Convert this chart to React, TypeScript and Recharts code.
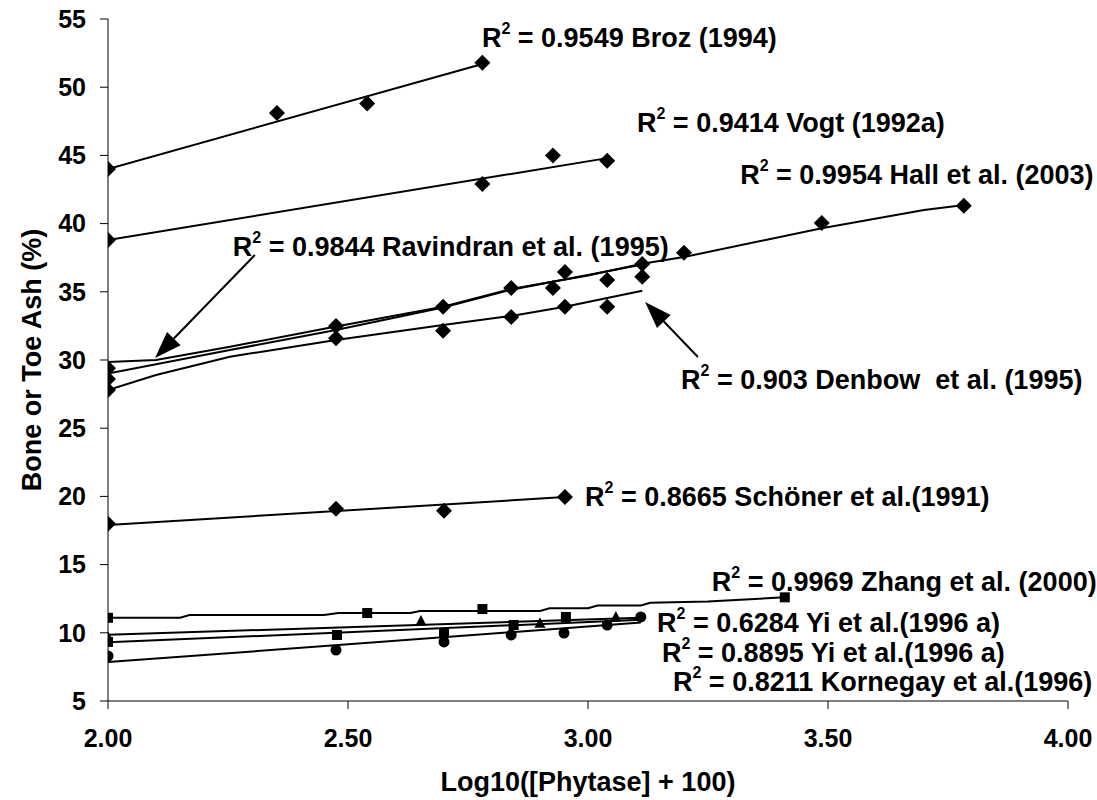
import React from 'react';
import { ScatterChart, Scatter, XAxis, YAxis, ReferenceDot, ReferenceLine, Label } from 'recharts';

// ---------- tick labels ----------
const xTicks = [2.0, 2.5, 3.0, 3.5, 4.0];
const yTicks = [5, 10, 15, 20, 25, 30, 35, 40, 45, 50, 55];

// ---------- observed points ----------
const brozPts = [
  { x: 2.0, y: 44.0 }, { x: 2.352, y: 48.1 }, { x: 2.54, y: 48.8 }, { x: 2.78, y: 51.8 },
];
const vogtPts = [
  { x: 2.0, y: 38.8 }, { x: 2.78, y: 42.9 }, { x: 2.927, y: 45.0 }, { x: 3.04, y: 44.6 },
];
const hallPts = [
  { x: 2.0, y: 29.4 }, { x: 2.475, y: 32.5 }, { x: 2.698, y: 33.9 }, { x: 2.952, y: 36.45 },
  { x: 3.113, y: 37.04 }, { x: 3.2, y: 37.87 }, { x: 3.487, y: 40.04 }, { x: 3.783, y: 41.3 },
];
const ravindranPts = [
  { x: 2.0, y: 28.6 }, { x: 2.84, y: 35.28 }, { x: 2.927, y: 35.28 }, { x: 3.04, y: 35.87 }, { x: 3.113, y: 36.1 },
];
const denbowPts = [
  { x: 2.0, y: 27.8 }, { x: 2.475, y: 31.6 }, { x: 2.698, y: 32.15 }, { x: 2.84, y: 33.15 },
  { x: 2.952, y: 33.9 }, { x: 3.04, y: 33.9 },
];
const schonerPts = [
  { x: 2.0, y: 18.0 }, { x: 2.475, y: 19.1 }, { x: 2.7, y: 18.95 }, { x: 2.952, y: 19.95 },
];
const zhangPts = [
  { x: 2.0, y: 11.1 }, { x: 2.54, y: 11.45 }, { x: 2.78, y: 11.74 }, { x: 3.41, y: 12.6 },
];
const yiTriPts = [
  { x: 2.0, y: 9.7 }, { x: 2.652, y: 10.87 }, { x: 2.9, y: 10.7 }, { x: 3.058, y: 11.16 },
];
const yiSqPts = [
  { x: 2.0, y: 9.33 }, { x: 2.477, y: 9.84 }, { x: 2.7, y: 9.98 }, { x: 2.845, y: 10.57 }, { x: 2.954, y: 11.16 },
];
const kornegayPts = [
  { x: 2.0, y: 8.3 }, { x: 2.475, y: 8.74 }, { x: 2.7, y: 9.33 }, { x: 2.84, y: 9.84 },
  { x: 2.95, y: 9.98 }, { x: 3.04, y: 10.57 }, { x: 3.11, y: 11.16 },
];

// ---------- trend lines (as drawn) ----------
const brozFit = [{ x: 2.0, y: 44.0 }, { x: 2.78, y: 51.7 }];
const vogtFit = [{ x: 2.0, y: 38.8 }, { x: 3.04, y: 44.8 }];
const hallFit = [
  { x: 2.0, y: 29.85 }, { x: 2.1, y: 30.0 }, { x: 2.254, y: 30.97 }, { x: 2.475, y: 32.45 },
  { x: 2.698, y: 33.9 }, { x: 2.84, y: 35.2 }, { x: 3.0, y: 36.2 }, { x: 3.113, y: 37.05 },
  { x: 3.2, y: 37.55 }, { x: 3.487, y: 39.66 }, { x: 3.7, y: 41.0 }, { x: 3.78, y: 41.35 },
];
const ravindranFit = [
  { x: 2.0, y: 29.0 }, { x: 2.254, y: 30.73 }, { x: 2.475, y: 32.2 }, { x: 2.698, y: 33.85 },
  { x: 2.84, y: 35.15 }, { x: 3.113, y: 37.0 },
];
const denbowFit = [
  { x: 2.0, y: 27.8 }, { x: 2.1, y: 28.9 }, { x: 2.254, y: 30.24 }, { x: 2.475, y: 31.47 },
  { x: 2.698, y: 32.57 }, { x: 2.84, y: 33.23 }, { x: 2.952, y: 33.9 }, { x: 3.113, y: 35.08 },
];
const schonerFit = [{ x: 2.0, y: 17.9 }, { x: 2.952, y: 19.95 }];
const zhangFit = [
  { x: 2.0, y: 11.1 }, { x: 2.15, y: 11.1 }, { x: 2.17, y: 11.3 }, { x: 2.45, y: 11.3 },
  { x: 2.48, y: 11.45 }, { x: 2.63, y: 11.45 }, { x: 2.65, y: 11.6 }, { x: 2.9, y: 11.6 },
  { x: 2.92, y: 11.8 }, { x: 3.0, y: 11.8 }, { x: 3.02, y: 12.0 }, { x: 3.11, y: 12.0 },
  { x: 3.13, y: 12.2 }, { x: 3.25, y: 12.3 }, { x: 3.41, y: 12.6 },
];
const yiTriFit = [{ x: 2.0, y: 9.85 }, { x: 3.11, y: 11.1 }];
const yiSqFit = [{ x: 2.0, y: 9.3 }, { x: 3.11, y: 10.95 }];
const kornegayFit = [{ x: 2.0, y: 7.85 }, { x: 3.11, y: 10.75 }];

// ---------- annotation texts ----------
const annotations = [
  { x: 2.779, y: 53.6, r2: '0.9549', name: 'Broz (1994)' },
  { x: 3.102, y: 47.38, r2: '0.9414', name: 'Vogt (1992a)' },
  { x: 3.317, y: 43.56, r2: '0.9954', name: 'Hall et al. (2003)' },
  { x: 2.26, y: 38.28, r2: '0.9844', name: 'Ravindran et al. (1995)' },
  { x: 3.194, y: 28.5, r2: '0.903', name: 'Denbow  et al. (1995)' },
  { x: 2.994, y: 19.96, r2: '0.8665', name: 'Schöner et al.(1991)' },
  { x: 3.258, y: 13.72, r2: '0.9969', name: 'Zhang et al. (2000)' },
  { x: 3.144, y: 10.72, r2: '0.6284', name: 'Yi et al.(1996 a)' },
  { x: 3.154, y: 8.52, r2: '0.8895', name: 'Yi et al.(1996 a)' },
  { x: 3.177, y: 6.39, r2: '0.8211', name: 'Kornegay et al.(1996)' },
];
const arrows = [
  { from: { x: 2.306, y: 37.7 }, to: { x: 2.098, y: 30.15 } },
  { from: { x: 3.229, y: 30.22 }, to: { x: 3.119, y: 34.25 } },
];

const FONT = '"Liberation Sans", Arial, Helvetica, sans-serif';

const Diamond = (p: any) => {
  const { cx, cy } = p;
  const s = 8;
  return <path d={`M${cx} ${cy - s}L${cx + s} ${cy}L${cx} ${cy + s}L${cx - s} ${cy}Z`} fill="#000" />;
};
const Square = (p: any) => <rect x={p.cx - 5} y={p.cy - 5} width={10} height={10} fill="#000" />;
const Triangle = (p: any) => {
  const { cx, cy } = p;
  return <path d={`M${cx} ${cy - 6}L${cx + 5.5} ${cy + 4.5}L${cx - 5.5} ${cy + 4.5}Z`} fill="#000" />;
};
const Circle = (p: any) => <circle cx={p.cx} cy={p.cy} r={5.5} fill="#000" />;
const NoDot = () => <g />;

const AnnText = (a: { r2: string; name: string }) => (p: any) => (
  <text
    x={p.cx}
    y={p.cy}
    dominantBaseline="central"
    fontFamily={FONT}
    fontWeight="bold"
    fontSize={27}
    fill="#000"
    style={{ whiteSpace: 'pre' }}
  >
    R<tspan fontSize={16} dy={-10}>2</tspan>
    <tspan dy={10}>{` = ${a.r2} ${a.name}`}</tspan>
  </text>
);

const ArrowShape = (p: any) => {
  const { x1, y1, x2, y2 } = p;
  if ([x1, y1, x2, y2].some((v) => typeof v !== 'number' || isNaN(v))) return <g />;
  const dx = x2 - x1;
  const dy = y2 - y1;
  const len = Math.sqrt(dx * dx + dy * dy);
  const ux = dx / len;
  const uy = dy / len;
  const hl = 27;
  const hw = 9.5;
  const bx = x2 - ux * hl;
  const by = y2 - uy * hl;
  return (
    <g>
      <line x1={x1} y1={y1} x2={bx} y2={by} stroke="#000" strokeWidth={2} />
      <path
        d={`M${x2} ${y2}L${bx - uy * hw} ${by + ux * hw}L${bx + uy * hw} ${by - ux * hw}Z`}
        fill="#000"
      />
    </g>
  );
};

const seriesStyle = { stroke: '#000', strokeWidth: 2 };

export default function App() {
  return (
    <div style={{ position: 'absolute', left: 0, top: 0, background: '#fff' }}>
      <style>{`body{margin:0;background:#fff}`}</style>
      <ScatterChart width={1097} height={800} margin={{ top: 19, right: 29, bottom: 0, left: 0 }}>
        <XAxis
          type="number"
          dataKey="x"
          domain={[2, 4]}
          ticks={xTicks}
          allowDataOverflow
          tickFormatter={(v: number) => v.toFixed(2)}
          height={99}
          tickSize={8}
          tickMargin={20}
          axisLine={{ stroke: '#000', strokeWidth: 1 }}
          tickLine={{ stroke: '#000', strokeWidth: 1 }}
          tick={{ fill: '#000', fontSize: 25, fontWeight: 'bold', fontFamily: FONT }}
        >
          <Label
            content={(props: any) => {
              const vb = props.viewBox || { x: 108, y: 701, width: 960, height: 99 };
              return (
                <text
                  x={vb.x + vb.width / 2}
                  y={vb.y + 81}
                  textAnchor="middle"
                  dominantBaseline="central"
                  fontFamily={FONT}
                  fontWeight="bold"
                  fontSize={27}
                  fill="#000"
                >
                  Log10([Phytase] + 100)
                </text>
              );
            }}
          />
        </XAxis>
        <YAxis
          type="number"
          dataKey="y"
          domain={[5, 55]}
          ticks={yTicks}
          allowDataOverflow
          width={108}
          tickSize={8}
          tickMargin={14}
          axisLine={{ stroke: '#000', strokeWidth: 1 }}
          tickLine={{ stroke: '#000', strokeWidth: 1 }}
          tick={{ fill: '#000', fontSize: 25, fontWeight: 'bold', fontFamily: FONT }}
        >
          <Label
            content={(props: any) => {
              const vb = props.viewBox || { x: 0, y: 19, width: 108, height: 682 };
              const cx = vb.x + 32;
              const cy = vb.y + vb.height / 2;
              return (
                <text
                  x={cx}
                  y={cy}
                  transform={`rotate(-90 ${cx} ${cy})`}
                  textAnchor="middle"
                  dominantBaseline="central"
                  fontFamily={FONT}
                  fontWeight="bold"
                  fontSize={27}
                  fill="#000"
                >
                  Bone or Toe Ash (%)
                </text>
              );
            }}
          />
        </YAxis>

        {/* trend lines */}
        <Scatter data={brozFit} line={seriesStyle} shape={NoDot} isAnimationActive={false} />
        <Scatter data={vogtFit} line={seriesStyle} shape={NoDot} isAnimationActive={false} />
        <Scatter data={hallFit} line={seriesStyle} shape={NoDot} isAnimationActive={false} />
        <Scatter data={ravindranFit} line={seriesStyle} shape={NoDot} isAnimationActive={false} />
        <Scatter data={denbowFit} line={seriesStyle} shape={NoDot} isAnimationActive={false} />
        <Scatter data={schonerFit} line={seriesStyle} shape={NoDot} isAnimationActive={false} />
        <Scatter data={zhangFit} line={seriesStyle} shape={NoDot} isAnimationActive={false} />
        <Scatter data={yiTriFit} line={seriesStyle} shape={NoDot} isAnimationActive={false} />
        <Scatter data={yiSqFit} line={seriesStyle} shape={NoDot} isAnimationActive={false} />
        <Scatter data={kornegayFit} line={seriesStyle} shape={NoDot} isAnimationActive={false} />

        {/* observations */}
        <Scatter data={brozPts} shape={Diamond} isAnimationActive={false} />
        <Scatter data={vogtPts} shape={Diamond} isAnimationActive={false} />
        <Scatter data={hallPts} shape={Diamond} isAnimationActive={false} />
        <Scatter data={ravindranPts} shape={Diamond} isAnimationActive={false} />
        <Scatter data={denbowPts} shape={Diamond} isAnimationActive={false} />
        <Scatter data={schonerPts} shape={Diamond} isAnimationActive={false} />
        <Scatter data={zhangPts} shape={Square} isAnimationActive={false} />
        <Scatter data={yiTriPts} shape={Triangle} isAnimationActive={false} />
        <Scatter data={yiSqPts} shape={Square} isAnimationActive={false} />
        <Scatter data={kornegayPts} shape={Circle} isAnimationActive={false} />

        {arrows.map((a, i) => (
          <ReferenceLine
            key={`arr${i}`}
            segment={[a.from, a.to]}
            ifOverflow="visible"
            shape={ArrowShape}
          />
        ))}
        {annotations.map((a, i) => (
          <ReferenceDot
            key={`ann${i}`}
            x={a.x}
            y={a.y}
            r={0}
            ifOverflow="visible"
            shape={AnnText(a)}
          />
        ))}
      </ScatterChart>
    </div>
  );
}
